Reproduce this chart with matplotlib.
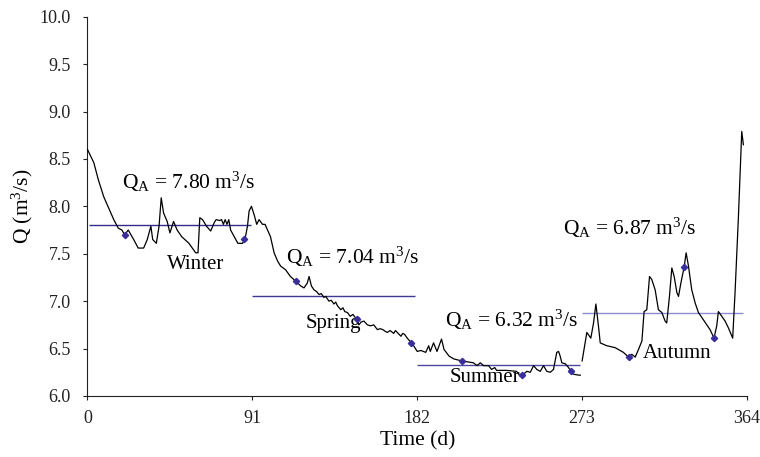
import matplotlib
matplotlib.use("Agg")
import matplotlib.pyplot as plt
import numpy as np

plt.rcParams['font.family'] = ['Liberation Serif', 'DejaVu Serif']
plt.rcParams['mathtext.fontset'] = 'custom'
plt.rcParams['mathtext.rm'] = 'Liberation Serif'
plt.rcParams['mathtext.it'] = 'Liberation Serif:italic'

# Daily discharge (traced knots)
days = [0, 3.5, 6, 9, 12, 14.5, 17, 19, 20.5, 22.5, 25.5, 28, 31, 33, 35, 36, 38, 39.5,
        40.7, 42, 44, 45.5, 47.5, 49.5, 52, 56, 59.7, 61, 62, 63.5, 65.7, 68, 70, 71, 73,
        74, 75, 76, 77, 78, 79, 81, 83, 85.6, 87, 88.3, 89.2, 90.5, 92, 93.4, 94.7, 96.6,
        98, 101, 103, 105, 106.6, 109.4, 112, 115, 117.7, 119.5, 121.3, 122.3, 123.6, 125,
        126.5, 127.8, 129, 130.5, 131.5, 133.3, 134.5, 136, 137, 138, 139.8, 141, 142, 143.5,
        145, 146.5, 148.5, 149.8, 151, 152.6, 154.5, 156.3, 158, 160, 161.5, 163, 164.5,
        165.5, 167, 169, 170, 171, 173, 174, 175, 176.5, 178.7, 180, 182, 184, 186.7, 188.3,
        189.2, 191, 192.9, 195.4, 196.8, 199.6, 202.3, 206.6, 210, 213, 215, 216.8, 218.6,
        221.4, 223, 224.8, 225.8, 231.3, 236.8, 238.8, 240, 242.5, 244.4, 246.2, 248, 249.9,
        251.7, 253.5, 255.4, 257.2, 259, 260, 260.9, 261.8, 263.7, 265.5, 266.8, 268.2, 271,
        272,
        273, 275.6, 277.8, 279.3, 280.6, 282, 283, 286.6, 291.2, 295.8, 298.6, 300.4,
        302.3, 304.1, 306, 307.2, 308.7, 310.2, 311.4, 313.3, 315.1, 317, 318.8, 319.7,
        321.2, 322.5, 323.8, 325.3, 326.2, 327.5, 329.3, 330.4, 331.7, 333.5, 335.4, 337.2,
        339, 341.8, 343.6, 345.8, 347.3, 348.2, 350.1, 351.9, 353.7, 356.1, 357.4, 359.2,
        361.1, 362]
q = [8.60, 8.46, 8.28, 8.10, 7.97, 7.86, 7.77, 7.75, 7.70, 7.75, 7.65, 7.56, 7.56, 7.65,
     7.79, 7.65, 7.61, 7.79, 8.09, 7.93, 7.84, 7.72, 7.84, 7.75, 7.68, 7.61, 7.51, 7.51,
     7.88, 7.86, 7.79, 7.74, 7.83, 7.86, 7.85, 7.86, 7.81, 7.86, 7.81, 7.86, 7.75, 7.68,
     7.61, 7.61, 7.66, 7.79, 7.95, 8.00, 7.91, 7.81, 7.86, 7.81, 7.81, 7.68, 7.51, 7.42,
     7.37, 7.33, 7.26, 7.21, 7.16, 7.14, 7.19, 7.26, 7.16, 7.12,
     7.10, 7.07, 7.08, 7.04, 7.05, 7.00, 7.01, 6.97, 6.99, 6.95, 6.91, 6.93, 6.89, 6.88,
     6.84, 6.86, 6.81, 6.75, 6.78, 6.79, 6.75, 6.74, 6.75, 6.70, 6.71, 6.70, 6.68,
     6.67, 6.69, 6.66, 6.69, 6.67, 6.63, 6.66, 6.65, 6.61, 6.56, 6.53, 6.47, 6.48, 6.46,
     6.53, 6.47, 6.56, 6.47, 6.60, 6.49, 6.42, 6.39, 6.37, 6.36, 6.35, 6.32, 6.35, 6.32,
     6.32, 6.28, 6.30, 6.27, 6.27, 6.26, 6.21, 6.22, 6.26, 6.25, 6.32, 6.28, 6.26, 6.32,
     6.26, 6.25, 6.28, 6.46, 6.47, 6.42, 6.35, 6.34, 6.30, 6.26, 6.23, 6.22, 6.22,
     6.37, 6.67, 6.61, 6.77, 6.97, 6.74, 6.56, 6.53, 6.51, 6.46, 6.41, 6.44, 6.41, 6.49,
     6.58, 6.89, 6.91, 7.26, 7.23, 7.12, 6.91, 6.88, 6.79, 6.77, 7.05, 7.35, 7.26, 7.09,
     7.05, 7.19, 7.36, 7.51, 7.37, 7.12, 6.98, 6.88, 6.83, 6.75, 6.70, 6.61, 6.74, 6.89,
     6.84, 6.79, 6.72, 6.61, 7.09, 7.86, 8.79, 8.65]

# Sample points (markers)
sample_days = [20.6, 86.4, 115, 148.5, 178.7, 206.6, 240, 266.8, 298.6, 329.3, 345.8]
sample_q = [7.70, 7.66, 7.21, 6.81, 6.56, 6.37, 6.22, 6.26, 6.41, 7.36, 6.61]

# Seasonal means
seasons = ['Winter', 'Spring', 'Summer', 'Autumn']
season_start = [1, 91, 182, 273]
season_end = [90, 181, 272, 362]
season_mean = [7.80, 7.04, 6.32, 6.87]
mean_line_y = [7.80, 7.05, 6.33, 6.88]
mean_colors = ['#2e2e8c', '#3c3c96', '#4a4aa0', '#8c8cd2']

xticks = [0, 91, 182, 273, 364]
yticks = [6.0, 6.5, 7.0, 7.5, 8.0, 8.5, 9.0, 9.5, 10.0]

fig = plt.figure(figsize=(7.6, 4.57), dpi=100)
ax = fig.add_axes([0.1151, 0.1335, 0.8678, 0.8300])

d = np.array(days)
qq = np.array(q)
m1 = d <= 272.5
ax.plot(d[m1], qq[m1], color='black', lw=0.9, zorder=3)
ax.plot(d[~m1], qq[~m1], color='black', lw=0.9, zorder=3)

for s, e, y, c in zip(season_start, season_end, mean_line_y, mean_colors):
    ax.hlines(y, s, e, color=c, lw=1.0, zorder=2)

ax.plot(sample_days, sample_q, ls='none', marker='D', ms=3.2, color='#3a2f9a', zorder=4)

fs = 15.5
lab_pos = [(19.1, 8.18), (109.8, 7.39), (197.5, 6.73), (262.5, 7.70)]
for (x, y), m in zip(lab_pos, season_mean):
    ax.text(x, y, r'Q$_\mathrm{A}$ = %.2f m$^\mathrm{3}$/s' % m, fontsize=fs,
            ha='left', va='baseline')

season_pos = [(59.6, 7.39, 'center'), (135.5, 6.76, 'center'),
              (219.5, 6.19, 'center'), (306.5, 6.45, 'left')]
for (x, y, ha), name in zip(season_pos, seasons):
    ax.text(x, y, name, fontsize=15, ha=ha, va='center')

ax.set_xlim(0, 364)
ax.set_ylim(6.0, 10.0)
ax.set_xticks(xticks)
ax.set_xticklabels([str(t) for t in xticks])
ax.set_yticks(yticks)
ax.set_yticklabels(['%.1f' % t for t in yticks])
ax.tick_params(axis='both', direction='out', length=3, width=0.8, labelsize=13,
               colors='#222222')
ax.tick_params(axis='y', pad=9)
ax.tick_params(axis='x', pad=7)

for sp in ['top', 'right']:
    ax.spines[sp].set_visible(False)
for sp in ['left', 'bottom']:
    ax.spines[sp].set_linewidth(0.8)
    ax.spines[sp].set_color('#222222')

ax.set_xlabel('Time (d)', fontsize=15.5)
ax.set_ylabel('Q (m$^\\mathrm{3}$/s)', fontsize=15.5)
ax.xaxis.set_label_coords(0.5, -0.118)
ax.yaxis.set_label_coords(-0.099, 0.5)
ax.xaxis.label.set_va('center')
ax.yaxis.label.set_va('center')

fig.savefig('out.png', dpi=100)
